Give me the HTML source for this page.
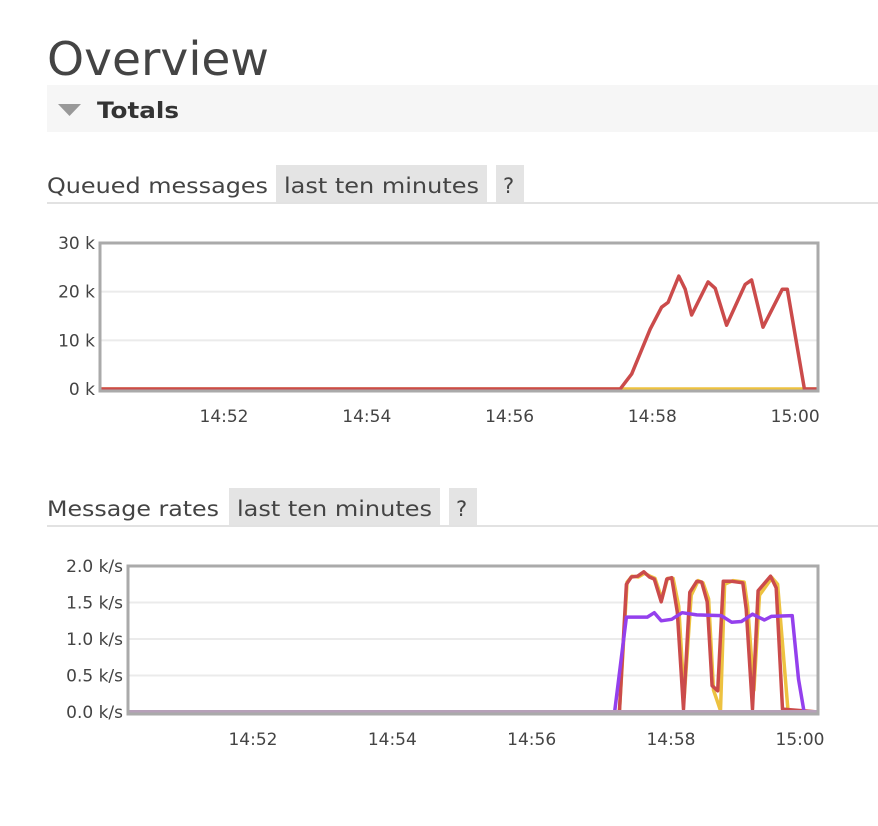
<!DOCTYPE html>
<html><head><meta charset="utf-8"><style>
html,body{margin:0;padding:0;background:#fff;}
svg{display:block;font-family:"DejaVu Sans","Liberation Sans",sans-serif;}
</style></head><body>
<svg id="page" width="878" height="826" viewBox="0 0 878 826">
<text x="47" y="75" font-size="46" fill="#444" textLength="222" lengthAdjust="spacingAndGlyphs">Overview</text>
<g>
<rect x="47" y="85" width="831" height="47" fill="#f6f6f6"/>
<polygon points="58,104 81,104 69.5,116" fill="#999"/>
<text x="97" y="118" font-size="22" font-weight="bold" fill="#333" textLength="82" lengthAdjust="spacingAndGlyphs">Totals</text>
</g>
<g>
<text x="47" y="193" font-size="21" fill="#444" textLength="221" lengthAdjust="spacingAndGlyphs">Queued messages</text>
<rect x="276" y="165" width="211" height="38" fill="#e4e4e4"/>
<text x="284" y="193" font-size="21" fill="#444" textLength="195" lengthAdjust="spacingAndGlyphs">last ten minutes</text>
<rect x="496" y="165" width="28" height="38" fill="#e4e4e4"/>
<text x="503" y="193" font-size="21" fill="#444">?</text>
<rect x="47" y="202" width="831" height="2" fill="#e2e2e2"/>
</g>
<g>
<text x="47" y="516" font-size="21" fill="#444" textLength="172" lengthAdjust="spacingAndGlyphs">Message rates</text>
<rect x="229" y="488" width="211" height="38" fill="#e4e4e4"/>
<text x="237" y="516" font-size="21" fill="#444" textLength="195" lengthAdjust="spacingAndGlyphs">last ten minutes</text>
<rect x="449" y="488" width="28" height="38" fill="#e4e4e4"/>
<text x="456" y="516" font-size="21" fill="#444">?</text>
<rect x="47" y="525" width="831" height="2" fill="#e2e2e2"/>
</g>
<g id="chart1"></g>
<g id="chart2"></g>
</svg>
<script>
// time in minutes after 14:50
const xTickMinutes = [2, 4, 6, 8, 10];
const xTickLabels = ["14:52", "14:54", "14:56", "14:58", "15:00"];
const q1Yticks = [0, 10000, 20000, 30000];
const q1YtickLabels = ["0 k", "10 k", "20 k", "30 k"];
const q1Times = [0.26, 7.55, 7.71, 7.97, 8.13, 8.22, 8.37, 8.46, 8.55, 8.78, 8.88, 9.04, 9.30, 9.39, 9.55, 9.82, 9.89, 10.13, 10.32];
const q1Ready = [0, 0, 3100, 12300, 16800, 17800, 23200, 20500, 15200, 22000, 20700, 13100, 21500, 22400, 12700, 20500, 20500, 0, 0];
const q1UnackTimes = [0.26, 10.32];
const q1Unack = [0, 0];
const r2Yticks = [0, 0.5, 1.0, 1.5, 2.0];
const r2YtickLabels = ["0.0 k/s", "0.5 k/s", "1.0 k/s", "1.5 k/s", "2.0 k/s"];
const r2PubTimes = [0.2, 7.26, 7.36, 7.43, 7.52, 7.61, 7.69, 7.76, 7.86, 7.94, 8.01, 8.09, 8.18, 8.27, 8.37, 8.44, 8.52, 8.59, 8.67, 8.75, 8.87, 9.03, 9.08, 9.17, 9.25, 9.43, 9.51, 9.60, 10.11];
const r2Publish = [0, 0, 1.75, 1.85, 1.86, 1.92, 1.85, 1.82, 1.51, 1.82, 1.84, 1.37, 0.04, 1.64, 1.79, 1.78, 1.51, 0.36, 0.29, 1.79, 1.79, 1.77, 1.41, 0.04, 1.66, 1.86, 1.70, 0.04, 0];
const r2DelTimes = [0.2, 7.26, 7.37, 7.44, 7.53, 7.62, 7.70, 7.77, 7.87, 7.95, 8.03, 8.11, 8.19, 8.29, 8.39, 8.46, 8.54, 8.61, 8.71, 8.77, 8.89, 9.05, 9.10, 9.19, 9.27, 9.45, 9.53, 9.68, 10.11];
const r2Deliver = [0, 0, 1.78, 1.86, 1.85, 1.9, 1.86, 1.83, 1.55, 1.83, 1.83, 1.45, 0.2, 1.6, 1.8, 1.77, 1.55, 0.3, 0.02, 1.75, 1.8, 1.78, 1.45, 0.3, 1.6, 1.84, 1.75, 0.02, 0];
const r2AckTimes = [0.2, 7.19, 7.36, 7.45, 7.66, 7.76, 7.86, 8.01, 8.16, 8.37, 8.72, 8.87, 9.01, 9.17, 9.34, 9.44, 9.74, 9.83, 9.91, 10.11];
const r2Ack = [0, 0, 1.30, 1.30, 1.30, 1.36, 1.25, 1.27, 1.36, 1.33, 1.32, 1.23, 1.24, 1.34, 1.26, 1.31, 1.32, 0.45, 0, 0];

const NS = "http://www.w3.org/2000/svg";
function mk(tag, attrs, parent){const e=document.createElementNS(NS,tag);for(const k in attrs)e.setAttribute(k,attrs[k]);parent.appendChild(e);return e;}

function drawChart(g, box, xmin, xmax, ymax, yticks, ylabels, series, baseColor, xlabMaxRight){
  const sx=t=>box.l+(t-xmin)/(xmax-xmin)*(box.r-box.l);
  const sy=v=>(box.b-2)-v/ymax*(box.b-2-box.t);
  yticks.forEach((v,i)=>{
    if(v>0 && v<ymax){const gl=mk("line",{x1:box.l,x2:box.r,y1:sy(v),y2:sy(v),stroke:"#ebebeb","stroke-width":2},g);
      
      }
    const tx=mk("text",{x:box.l-5,y:sy(v)+6,"text-anchor":"end","font-size":17,fill:"#444"},g);
    tx.textContent=ylabels[i];
    
    
  });
  xTickMinutes.forEach((t,i)=>{
    let cx=Math.min(sx(t), xlabMaxRight);
    const tx=mk("text",{x:cx,y:box.b+31,"text-anchor":"middle","font-size":17,fill:"#444"},g);
    tx.textContent=xTickLabels[i];
    
    
  });
  series.forEach(s=>{
    const pts=s.t.map((t,i)=>sx(t).toFixed(1)+","+sy(s.v[i]).toFixed(1)).join(" ");
    const pl=mk("polyline",{points:pts,fill:"none",stroke:s.c,"stroke-width":3.5,"stroke-linejoin":"round"},g);
    
    
  });
  if(baseColor){const bl=mk("line",{x1:box.l,x2:box.r,y1:box.b-2,y2:box.b-2,stroke:baseColor,"stroke-width":4},g);
    
    }
  const fr=mk("rect",{x:box.l,y:box.t,width:box.r-box.l,height:box.b-box.t,fill:"none",stroke:"#aaa","stroke-width":3},g);
  
  
}

drawChart(document.getElementById('chart1'), {l:100,r:818,t:243,b:391}, 0.263, 10.32, 30000, q1Yticks, q1YtickLabels,
  [{t:q1UnackTimes,v:q1Unack,c:"#edc240",n:"unacked-line"},{t:q1Times,v:q1Ready,c:"#cb4b4b",n:"ready-line"}], null, 800);
drawChart(document.getElementById('chart2'), {l:128,r:818,t:566,b:714}, 0.206, 10.11, 2.0, r2Yticks, r2YtickLabels,
  [{t:r2DelTimes,v:r2Deliver,c:"#edc240",n:"deliver-line"},{t:r2PubTimes,v:r2Publish,c:"#cb4b4b",n:"publish-line"},{t:r2AckTimes,v:r2Ack,c:"#9440ed",n:"ack-line"}], "#b6a0b8", 800);
</script>
</body></html>
